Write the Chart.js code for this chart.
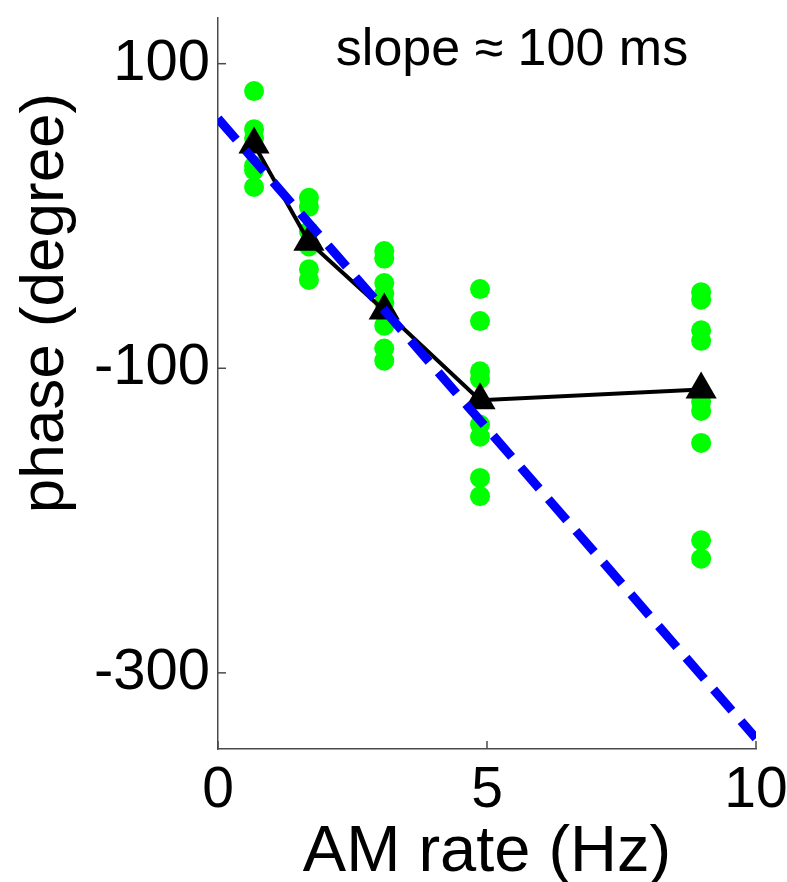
<!DOCTYPE html>
<html>
<head>
<meta charset="utf-8">
<script src="https://cdn.jsdelivr.net/npm/chart.js@4/dist/chart.umd.min.js"></script>
<style>
  html, body { margin: 0; padding: 0; background: #fff; }
  #wrap { width: 787px; height: 882px; }
</style>
</head>
<body>
<div id="wrap"><canvas id="myChart" width="787" height="882"></canvas></div>
<script>
// AM rates (Hz) where phase was measured
const rates = [0.67, 1.69, 3.09, 4.87, 8.98]

// individual phases (degree), one list per rate
const phasesByRate = [
  [82, 57, 51, 33, 30, 19],
  [12, 6, -10, -20, -35, -42],
  [-23, -28, -44, -51, -57, -72, -87, -95],
  [-48, -69, -102, -107, -137, -145, -172, -184],
  [-50, -55, -75, -82, -122, -128, -149, -213, -225]
]

// mean phase per rate
const meanPhase = [47, -17, -62, -121, -114]

// linear fit (dashed)
const fitX = [0, 10]
const fitY = [64, -343]

const xTicks = [0, 5, 10]
const yTicks = [-300, -100, 100]

const FONT = 'Liberation Sans, Arial, sans-serif'

const scatterPts = []
rates.forEach((r, i) => phasesByRate[i].forEach(p => scatterPts.push({ x: r, y: p })))

const inwardTicks = {
  id: 'inwardTicks',
  afterDraw(chart) {
    const ctx = chart.ctx
    const { x, y } = chart.scales
    const area = chart.chartArea
    ctx.save()
    ctx.strokeStyle = '#4a4a4a'
    ctx.lineWidth = 1.5
    yTicks.forEach(v => {
      const py = y.getPixelForValue(v)
      ctx.beginPath(); ctx.moveTo(area.left, py); ctx.lineTo(area.left + 8, py); ctx.stroke()
    })
    xTicks.forEach(v => {
      const px = x.getPixelForValue(v)
      ctx.beginPath(); ctx.moveTo(px, area.bottom); ctx.lineTo(px, area.bottom - 8); ctx.stroke()
    })
    // texts
    ctx.fillStyle = '#000'
    ctx.textAlign = 'center'
    ctx.textBaseline = 'alphabetic'
    ctx.font = '52px ' + FONT
    ctx.fillText('slope \u2248 100 ms', 512, 65)
    ctx.font = '65px ' + FONT
    ctx.fillText('AM rate (Hz)', (area.left + area.right) / 2, 871)
    ctx.save()
    ctx.translate(63, 303)
    ctx.rotate(-Math.PI / 2)
    ctx.font = '62px ' + FONT
    ctx.fillText('phase (degree)', 0, 0)
    ctx.restore()
    ctx.restore()
  }
}

new Chart(document.getElementById('myChart').getContext('2d'), {
  type: 'scatter',
  data: {
    datasets: [
      {
        label: 'fit',
        type: 'line',
        data: fitX.map((v, i) => ({ x: v, y: fitY[i] })),
        borderColor: '#0000ff',
        borderWidth: 9,
        borderDash: [28, 14],
        pointRadius: 0,
        fill: false,
        order: 0
      },
      {
        label: 'mean',
        type: 'line',
        data: rates.map((v, i) => ({ x: v, y: meanPhase[i] })),
        borderColor: '#000',
        backgroundColor: '#000',
        borderWidth: 4,
        pointStyle: 'triangle',
        pointRadius: 18,
        pointBorderWidth: 0,
        fill: false,
        order: 1
      },
      {
        label: 'single',
        data: scatterPts,
        backgroundColor: '#00ff00',
        borderColor: '#00ff00',
        borderWidth: 0,
        pointRadius: 10,
        order: 2
      }
    ]
  },
  options: {
    responsive: false,
    animation: false,
    layout: { padding: { top: 12, right: 31, left: 0, bottom: 0 } },
    plugins: { legend: { display: false }, tooltip: { enabled: false } },
    scales: {
      x: {
        type: 'linear',
        min: 0,
        max: 10,
        afterBuildTicks: s => { s.ticks = xTicks.map(v => ({ value: v })) },
        afterFit: s => { s.height = 133; s.paddingLeft = 0; s.paddingRight = 0 },
        grid: { display: false, drawTicks: false },
        border: { display: true, color: '#4a4a4a', width: 1.5 },
        ticks: { color: '#000', font: { family: FONT, size: 57 }, padding: 8, maxRotation: 0 }
      },
      y: {
        type: 'linear',
        min: -350,
        max: 130,
        afterBuildTicks: s => { s.ticks = yTicks.map(v => ({ value: v })) },
        afterFit: s => { s.width = 218; s.paddingTop = 0; s.paddingBottom = 0 },
        grid: { display: false, drawTicks: false },
        border: { display: true, color: '#4a4a4a', width: 1.5 },
        ticks: { color: '#000', font: { family: FONT, size: 58 }, padding: 8 }
      }
    }
  },
  plugins: [inwardTicks]
})
</script>
</body>
</html>
